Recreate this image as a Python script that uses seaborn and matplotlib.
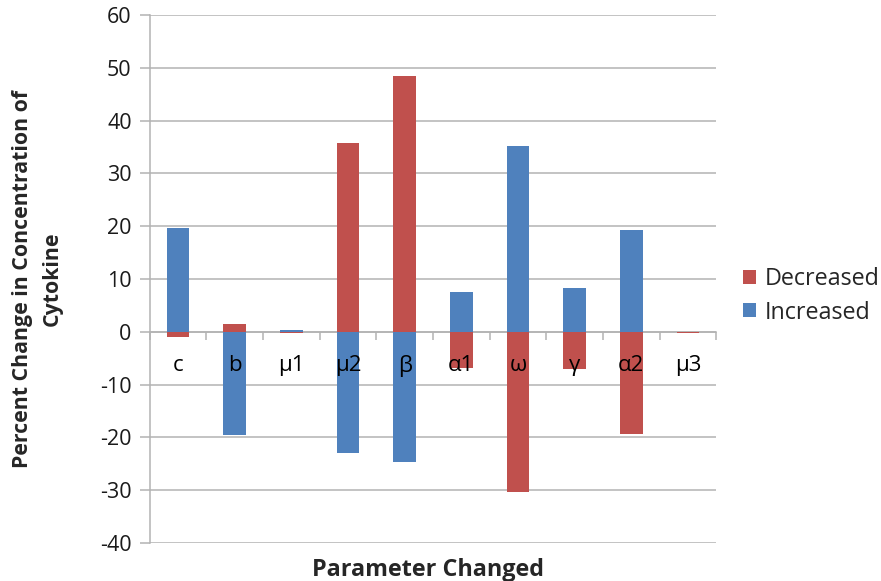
import matplotlib
matplotlib.use("Agg")
import matplotlib.pyplot as plt
import matplotlib.ticker as mticker
import seaborn as sns
import pandas as pd
import numpy as np

# Parameters varied in the sensitivity analysis
parameters = ["c", "b", "μ1", "μ2", "β", "α1", "ω", "γ", "α2", "μ3"]
# Percent change in cytokine concentration for each direction of parameter change
decreased = [-0.9, 1.5, -0.3, 35.8, 48.4, -6.8, -30.4, -7.1, -19.3, -0.2]
increased = [19.7, -19.5, 0.3, -23.0, -24.7, 7.6, 35.2, 8.3, 19.3, 0.0]
series_names = ["Decreased", "Increased"]
y_ticks = list(range(-40, 61, 10))

df = pd.DataFrame({
    "Parameter": parameters * 2,
    "Change": decreased + increased,
    "Series": [series_names[0]] * len(parameters) + [series_names[1]] * len(parameters),
})

sns.set_theme(style="white")
plt.rcParams["font.family"] = ["Open Sans", "Noto Sans", "DejaVu Sans"]
plt.rcParams["axes.unicode_minus"] = False

fig = plt.figure(figsize=(8.81, 5.81), dpi=100)
ax = fig.add_axes([0.170, 0.0654, 0.6430, 0.9088])

palette = {"Decreased": "#C0504D", "Increased": "#4F81BD"}
sns.barplot(data=df, x="Parameter", y="Change", hue="Series", hue_order=series_names,
            order=parameters, palette=palette, dodge=False, width=0.4,
            saturation=1, ax=ax, zorder=3, edgecolor="none")

grid_col = "#B3B3B3"
ax.set_ylim(-40, 60)
ax.set_xlim(-0.5, len(parameters) - 0.5)
ax.set_yticks(y_ticks)
ax.yaxis.grid(True, color=grid_col, linewidth=1.1, zorder=0)
ax.xaxis.grid(False)

for side in ["top", "right"]:
    ax.spines[side].set_visible(False)
ax.spines["left"].set_color(grid_col)
ax.spines["left"].set_linewidth(1.1)
ax.spines["bottom"].set_position(("data", 0))
ax.spines["bottom"].set_color(grid_col)
ax.spines["bottom"].set_linewidth(1.1)
ax.spines["bottom"].set_zorder(2)
# category labels sit on top of the bars
ax.xaxis.set_zorder(5)

ax.tick_params(axis="y", which="major", left=True, length=7, width=1.1, color=grid_col,
               labelsize=15.5, labelcolor="#1a1a1a", pad=6)
ax.tick_params(axis="x", which="major", bottom=True, length=0, labelsize=16,
               labelcolor="#000000", pad=17)
ax.xaxis.set_minor_locator(mticker.FixedLocator(np.arange(-0.5, len(parameters), 1.0)))
ax.tick_params(axis="x", which="minor", bottom=True, length=6, width=1.1, color=grid_col)

ax.set_xlabel("Parameter Changed", fontsize=16.8, fontweight="bold", labelpad=0)
ax.xaxis.set_label_coords(0.492, -0.028)
ax.set_ylabel("Percent Change in Concentration of\nCytokine", fontsize=15.3,
              fontweight="bold", linespacing=1.55)
ax.yaxis.set_label_coords(-0.153, 0.5)

handles, labels = ax.get_legend_handles_labels()
leg = ax.legend(handles, labels, loc="center left", bbox_to_anchor=(1.01, 0.468),
                frameon=False, fontsize=16.8, handlelength=0.55, handleheight=0.55,
                handletextpad=0.4, labelspacing=0.4)

fig.savefig("out.png", dpi=100)
